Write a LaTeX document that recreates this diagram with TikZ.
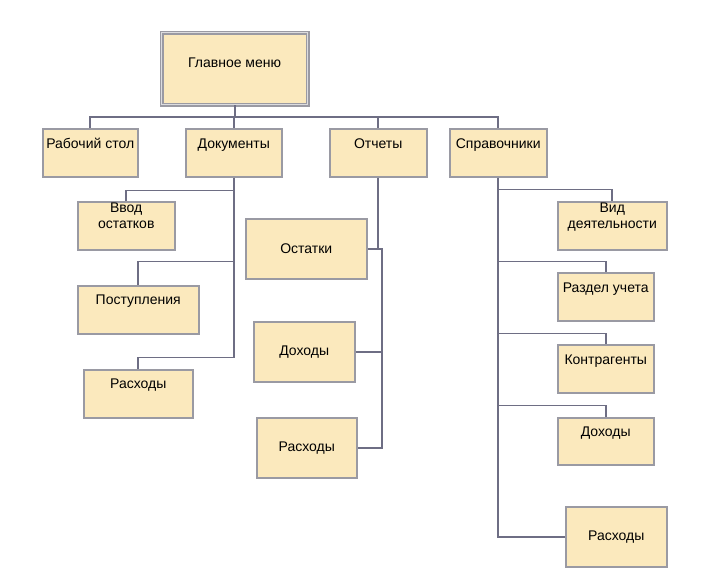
\documentclass[tikz,border=0pt]{standalone}
\usepackage{fontspec}
\setmainfont{Liberation Sans}
\usetikzlibrary{calc}
\definecolor{boxfill}{HTML}{FBE9BD}
\definecolor{boxline}{HTML}{9A9AA3}
\definecolor{linkline}{HTML}{6E6E84}
\tikzset{
    every node/.style={font=\fontsize{14}{16}\selectfont},
    box/.style={draw=boxline, fill=boxfill, line width=1.5pt, anchor=north west, inner sep=0pt},
    mainbox/.style={box, double=boxline!35!white, double distance=1.5pt, line width=1.3pt},
    txt/.style={anchor=base, align=center, inner sep=0pt},
    conn/.style={draw=linkline, line width=1.8pt},
}
\begin{document}
\begin{tikzpicture}[x=1pt, y=-1pt]
\useasboundingbox (0,0) rectangle (704,574);
% top of the menu
\node[mainbox, minimum width=146pt, minimum height=72pt] (main) at (161,32) {};
\node[txt] (main-t) at ($(main.north)+(0,35)$) {Главное меню};
% first level
\node[box, minimum width=95pt, minimum height=48pt] (rab) at (42,128) {};
\node[box, minimum width=96pt, minimum height=48pt] (doc) at (185,128) {};
\node[box, minimum width=97pt, minimum height=48pt] (otch) at (329,128) {};
\node[box, minimum width=97pt, minimum height=48pt] (spr) at (449,128) {};
\node[txt] (rab-t) at ($(rab.north)+(0,20)$) {Рабочий стол};
\node[txt] (doc-t) at ($(doc.north)+(0,20)$) {Документы};
\node[txt] (otch-t) at ($(otch.north)+(0,20)$) {Отчеты};
\node[txt] (spr-t) at ($(spr.north)+(0,20)$) {Справочники};
% documents
\node[box, minimum width=97pt, minimum height=48pt] (vvod) at (77,201) {};
\node[box, minimum width=121pt, minimum height=48pt] (post) at (77,285) {};
\node[box, minimum width=109pt, minimum height=48pt] (rasD) at (83,369) {};
\node[txt] (vvod-t) at ($(vvod.north)+(0,27)$) {Ввод\\остатков};
\node[txt] (post-t) at ($(post.north)+(0,19)$) {Поступления};
\node[txt] (rasD-t) at ($(rasD.north)+(0,19)$) {Расходы};
% reports
\node[box, minimum width=121pt, minimum height=60pt] (ost) at (245,218) {};
\node[box, minimum width=101pt, minimum height=60pt] (doxO) at (253,321) {};
\node[box, minimum width=100pt, minimum height=60pt] (rasO) at (256,417) {};
\node[txt] (ost-t) at ($(ost.center)+(0,5)$) {Остатки};
\node[txt] (doxO-t) at ($(doxO.center)+(0,4)$) {Доходы};
\node[txt] (rasO-t) at ($(rasO.center)+(0,4)$) {Расходы};
% reference books
\node[box, minimum width=109pt, minimum height=48pt] (vid) at (557,201) {};
\node[box, minimum width=96pt, minimum height=48pt] (razd) at (557,272) {};
\node[box, minimum width=96pt, minimum height=48pt] (kontr) at (557,344) {};
\node[box, minimum width=96pt, minimum height=47pt] (doxS) at (557,417) {};
\node[box, minimum width=101pt, minimum height=60pt] (rasS) at (565,506) {};
\node[txt] (vid-t) at ($(vid.north)+(0,27)$) {Вид\\деятельности};
\node[txt] (razd-t) at ($(razd.north)+(0,20)$) {Раздел учета};
\node[txt] (kontr-t) at ($(kontr.north)+(0,20)$) {Контрагенты};
\node[txt] (doxS-t) at ($(doxS.north)+(0,19)$) {Доходы};
\node[txt] (rasS-t) at ($(rasS.center)+(0,4)$) {Расходы};

% connectors
\draw[conn] (main.south) -- ++(0,12) coordinate (bus);
\draw[conn] (rab.north) |- (bus) -| (spr.north);
\draw[conn] (bus -| doc.north) -- (doc.north);
\draw[conn] (bus -| otch.north) -- (otch.north);

\draw[conn] (doc.south) -- ($(doc.south)+(0,180)$) coordinate (dend);
\draw[conn] (vvod.north) |- ($(doc.south)+(0,13)$);
\draw[conn] (post.north) |- ($(doc.south)+(0,84)$);
\draw[conn] (rasD.north) |- (dend);

\coordinate (rbus) at (382,0);
\draw[conn] (otch.south) -- (otch.south |- ost.east);
\draw[conn] (ost.east) -- (ost.east -| rbus) -- (rasO.east -| rbus) -- (rasO.east);
\draw[conn] (doxO.east) -- (doxO.east -| rbus);

\draw[conn] (spr.south) -- (spr.south |- rasS.west) -- (rasS.west);
\draw[conn] (vid.north) |- ($(spr.south)+(0,12)$);
\draw[conn] (razd.north) |- ($(spr.south)+(0,84)$);
\draw[conn] (kontr.north) |- ($(spr.south)+(0,156)$);
\draw[conn] (doxS.north) |- ($(spr.south)+(0,228)$);
\end{tikzpicture}
\end{document}
